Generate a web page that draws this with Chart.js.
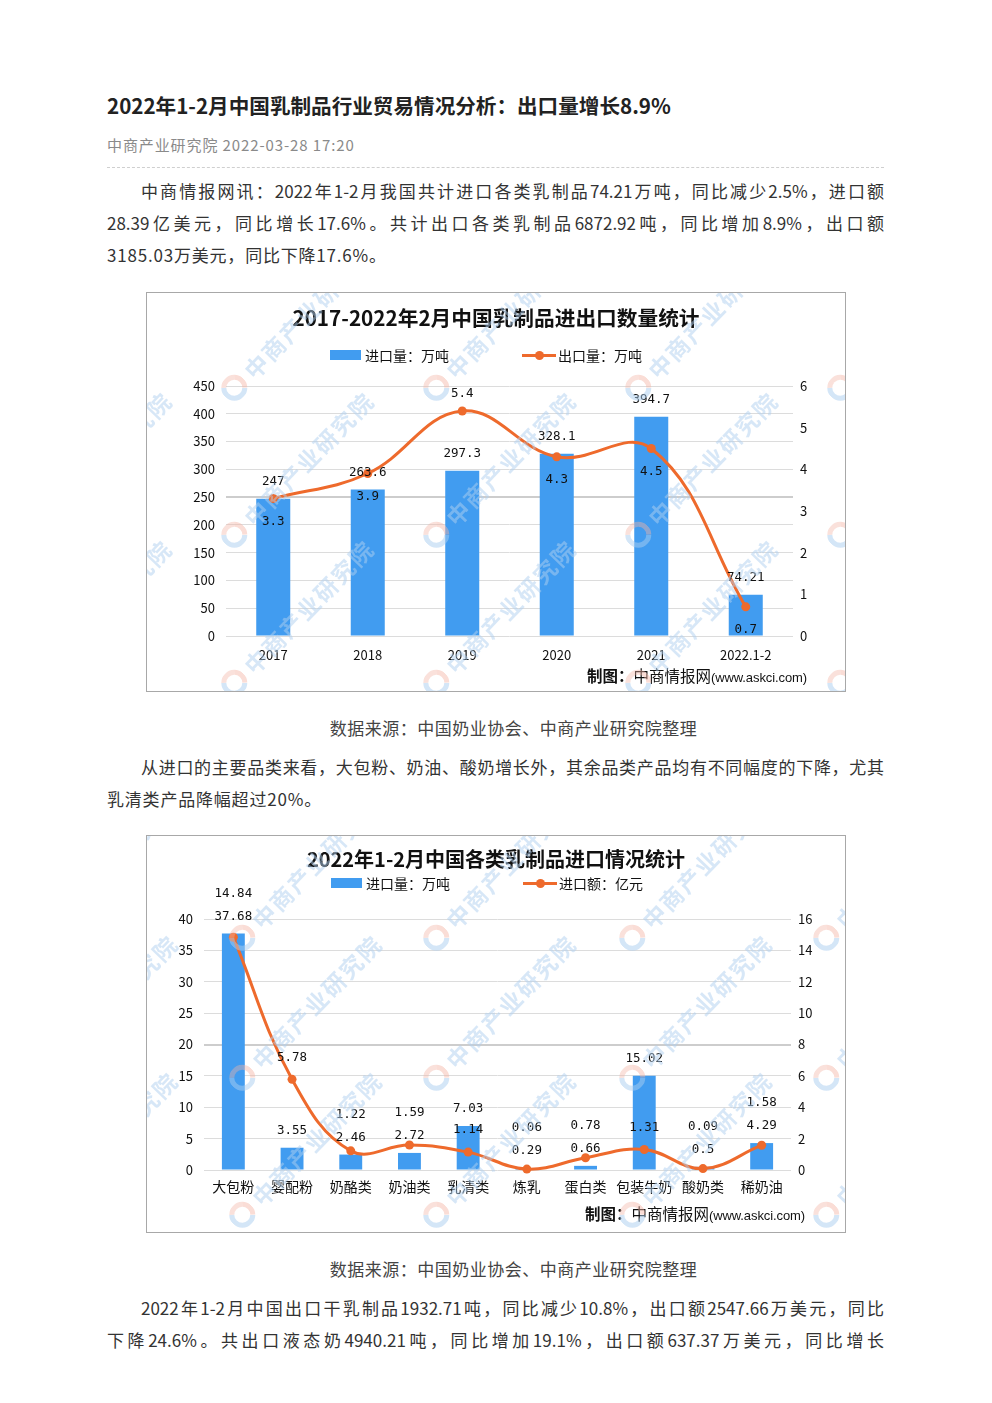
<!DOCTYPE html>
<html lang="zh-CN">
<head>
<meta charset="utf-8">
<title>2022年1-2月中国乳制品行业贸易情况分析</title>
<script src="https://cdn.jsdelivr.net/npm/chart.js@4.4.1/dist/chart.umd.min.js"></script>
<style>
  html, body { margin: 0; padding: 0; background: #fff; }
  body { width: 992px; height: 1403px; position: relative; overflow: hidden;
         font-family: "Noto Sans CJK SC", "Noto Sans", sans-serif; color: #333; }
  .abs { position: absolute; }
  .headline { left: 107px; top: 89px; font-size: 20.6px; line-height: 32px; font-weight: bold; color: #222; white-space: nowrap; }
  .meta { left: 107px; top: 134px; font-size: 15px; line-height: 22px; color: #8a8a8a; white-space: nowrap; letter-spacing: 0.9px; }
  .rule { left: 107px; top: 167px; width: 777px; border-top: 1px dashed #cfcfcf; }
  .para { left: 107px; width: 777px; font-size: 17px; line-height: 32px; letter-spacing: 0.8px; color: #333; }
  .para .jl { text-align: justify; text-align-last: justify; letter-spacing: 0; }
  .para .ind { text-indent: 34px; }
  .caption { left: 0; width: 1027px; text-align: center; font-size: 17px; line-height: 32px; letter-spacing: 0.5px; color: #444; }
  .chartbox { left: 146px; width: 698px; border: 1px solid #a8a8a8; overflow: hidden; background: #fff; }
  .chartbox canvas { position: absolute; left: 0; top: 0; }
  .ctitle { left: 0; width: 698px; text-align: center; font-weight: bold; color: #111; white-space: nowrap; }
  .leg { font-size: 14px; color: #111; white-space: nowrap; line-height: 20px; }
  .legbox { width: 31px; height: 10px; background: #419cf0; }
  .legline { width: 34px; height: 3px; background: #ee6a2c; }
  .legdot { width: 9px; height: 9px; border-radius: 50%; background: #ee6a2c; }
  .foot { white-space: nowrap; color: #111; line-height: 20px; font-size: 15.5px; }
  .foot b { font-weight: bold; }
  .foot span { font-family: "Liberation Sans Narrow", "Liberation Sans", sans-serif; font-size: 13px; letter-spacing: -0.1px; }
  .wm { position: absolute; transform: rotate(-46deg); transform-origin: 12px 12px; white-space: nowrap;
        pointer-events: none; z-index: 5; display: flex; align-items: center; }
  .wm i { display: inline-block; width: 16px; height: 16px; border-radius: 50%;
          border: 5px solid rgba(170, 205, 240, 0.5); border-right-color: rgba(245, 180, 165, 0.45);
          border-top-color: rgba(245, 180, 165, 0.4); margin-right: 6px; }
  .wm em { font-style: normal; font-weight: bold; font-size: 23px; letter-spacing: 2px; color: rgba(175, 208, 240, 0.5); }
</style>
</head>
<body>

<div class="abs headline">2022年1-2月中国乳制品行业贸易情况分析：出口量增长8.9%</div>
<div class="abs meta">中商产业研究院 2022-03-28 17:20</div>
<div class="abs rule"></div>

<div class="abs para" style="top:175px">
  <div class="jl ind">中商情报网讯：2022年1-2月我国共计进口各类乳制品74.21万吨，同比减少2.5%，进口额</div>
  <div class="jl">28.39亿美元，同比增长17.6%。共计出口各类乳制品6872.92吨，同比增加8.9%，出口额</div>
  <div>3185.03万美元，同比下降17.6%。</div>
</div>

<div class="abs chartbox" id="box1" style="top:292px; height:398px;">
  <canvas id="chart1" width="698" height="398"></canvas>
  <div class="abs ctitle" style="top:9px; font-size:20.7px">2017-2022年2月中国乳制品进出口数量统计</div>
  <div class="abs legbox" style="left:183px; top:57px"></div>
  <div class="abs leg" style="left:218px; top:52px">进口量：万吨</div>
  <div class="abs legline" style="left:375px; top:61px"></div>
  <div class="abs legdot" style="left:388px; top:58px"></div>
  <div class="abs leg" style="left:411px; top:52px">出口量：万吨</div>
  <div class="abs foot" style="right:38px; top:372px"><b>制图：</b>中商情报网<span>(www.askci.com)</span></div>
</div>

<div class="abs caption" style="top:712px">数据来源：中国奶业协会、中商产业研究院整理</div>

<div class="abs para" style="top:751px">
  <div class="jl ind">从进口的主要品类来看，大包粉、奶油、酸奶增长外，其余品类产品均有不同幅度的下降，尤其</div>
  <div>乳清类产品降幅超过20%。</div>
</div>

<div class="abs chartbox" id="box2" style="top:835px; height:396px;">
  <canvas id="chart2" width="698" height="396"></canvas>
  <div class="abs ctitle" style="top:8px; font-size:20px">2022年1-2月中国各类乳制品进口情况统计</div>
  <div class="abs legbox" style="left:184px; top:42px"></div>
  <div class="abs leg" style="left:219px; top:37px">进口量：万吨</div>
  <div class="abs legline" style="left:376px; top:46px"></div>
  <div class="abs legdot" style="left:389px; top:43px"></div>
  <div class="abs leg" style="left:412px; top:37px">进口额：亿元</div>
  <div class="abs foot" style="right:40px; top:367px"><b>制图：</b>中商情报网<span>(www.askci.com)</span></div>
</div>

<div class="abs caption" style="top:1253px">数据来源：中国奶业协会、中商产业研究院整理</div>

<div class="abs para" style="top:1292px">
  <div class="jl ind">2022年1-2月中国出口干乳制品1932.71吨，同比减少10.8%，出口额2547.66万美元，同比</div>
  <div class="jl">下降24.6%。共出口液态奶4940.21吨，同比增加19.1%，出口额637.37万美元，同比增长</div>
</div>

<script>
/* ---------- 图1：2017-2022年2月进出口数量 ---------- */
const years        = ['2017', '2018', '2019', '2020', '2021', '2022.1-2'];
const importVolume = [247, 263.6, 297.3, 328.1, 394.7, 74.21];   // 进口量：万吨
const exportVolume = [3.3, 3.9, 5.4, 4.3, 4.5, 0.7];             // 出口量：万吨
const exportLabelSide = ['below', 'below', 'above', 'below', 'below', 'below'];

/* ---------- 图2：2022年1-2月各类乳制品进口 ---------- */
const products      = ['大包粉', '婴配粉', '奶酪类', '奶油类', '乳清类', '炼乳', '蛋白类', '包装牛奶', '酸奶类', '稀奶油'];
const productVolume = [37.68, 3.55, 2.46, 2.72, 7.03, 0.29, 0.66, 15.02, 0.5, 4.29];   // 进口量：万吨
const productValue  = [14.84, 5.78, 1.22, 1.59, 1.14, 0.06, 0.78, 1.31, 0.09, 1.58];   // 进口额：亿元

const BLUE = '#419cf0';
const ORANGE = '#ee6a2c';
const NUM_FONT = '12.5px "DejaVu Sans Mono", "Liberation Mono", monospace';

// 数据标签：柱顶上方；折线标签按规则放上/下
const valueLabels = {
  id: 'valueLabels',
  afterDatasetsDraw(chart, args, opts) {
    const ctx = chart.ctx;
    const barMeta = chart.getDatasetMeta(1);
    const lineMeta = chart.getDatasetMeta(0);
    const barVals = chart.data.datasets[1].data;
    const lineVals = chart.data.datasets[0].data;
    ctx.save();
    ctx.font = NUM_FONT;
    ctx.fillStyle = '#111';
    ctx.textAlign = 'center';
    ctx.textBaseline = 'middle';
    barMeta.data.forEach((bar, i) => {
      const barY = bar.y - 17;
      ctx.fillText(String(barVals[i]), bar.x, barY);
      const p = lineMeta.data[i];
      let ly;
      if (opts.sides) {
        ly = opts.sides[i] === 'above' ? p.y - 17 : p.y + 23;
      } else {
        ly = p.y - 22;
        if (Math.abs(ly - barY) < 14) ly = barY - 23;
      }
      ctx.fillText(String(lineVals[i]), p.x, ly);
    });
    ctx.restore();
  }
};

function axisFont(size) {
  return { family: '"Noto Sans CJK SC", sans-serif', size: size };
}

function buildChart(id, cfg) {
  return new Chart(document.getElementById(id), {
    type: 'bar',
    data: {
      labels: cfg.labels,
      datasets: [
        {
          type: 'line', label: cfg.lineLabel, data: cfg.lineData, yAxisID: 'y1', order: 0,
          borderColor: ORANGE, backgroundColor: ORANGE, borderWidth: 3,
          pointRadius: 4.5, pointBackgroundColor: ORANGE, pointBorderWidth: 0,
          tension: 0.4, cubicInterpolationMode: 'default', clip: false
        },
        {
          type: 'bar', label: cfg.barLabel, data: cfg.barData, yAxisID: 'y', order: 1,
          backgroundColor: BLUE, barPercentage: cfg.barPct, categoryPercentage: 1
        }
      ]
    },
    options: {
      responsive: false,
      animation: false,
      events: [],
      layout: { padding: { top: cfg.padTop, left: 0, right: 0, bottom: 0 } },
      plugins: {
        legend: { display: false },
        tooltip: { enabled: false },
        valueLabels: { sides: cfg.sides }
      },
      scales: {
        x: {
          grid: { display: false },
          border: { display: false },
          ticks: { color: '#111', font: axisFont(cfg.xFont), padding: cfg.xPad, maxRotation: 0, autoSkip: false },
          afterFit(s) { s.height = cfg.xHeight; }
        },
        y: {
          position: 'left', min: 0, max: cfg.yMax,
          ticks: { stepSize: cfg.yStep, color: '#111', font: axisFont(13), padding: cfg.yPad },
          grid: {
            drawTicks: false,
            color: c => (c.tick && c.tick.value === cfg.darkLine) ? '#cdcdcd' : '#dcdcdc',
            lineWidth: c => (c.tick && c.tick.value === cfg.darkLine) ? 2 : 1
          },
          border: { display: false },
          afterFit(s) { s.width = cfg.leftW; }
        },
        y1: {
          position: 'right', min: 0, max: cfg.y1Max,
          ticks: { stepSize: cfg.y1Step, color: '#111', font: axisFont(13), padding: 7 },
          grid: { display: false, drawTicks: false },
          border: { display: false },
          afterFit(s) { s.width = cfg.rightW; }
        }
      }
    },
    plugins: [valueLabels]
  });
}

buildChart('chart1', {
  labels: years, barData: importVolume, lineData: exportVolume,
  barLabel: '进口量：万吨', lineLabel: '出口量：万吨', sides: exportLabelSide,
  yMax: 450, yStep: 50, y1Max: 6, y1Step: 1, darkLine: 250,
  barPct: 0.36, padTop: 93, leftW: 79, rightW: 52, xHeight: 55, xPad: 3, xFont: 13, yPad: 11
});

buildChart('chart2', {
  labels: products, barData: productVolume, lineData: productValue,
  barLabel: '进口量：万吨', lineLabel: '进口额：亿元', sides: null,
  yMax: 40, yStep: 5, y1Max: 16, y1Step: 2, darkLine: 20,
  barPct: 0.39, padTop: 83, leftW: 57, rightW: 54, xHeight: 62, xPad: 0, xFont: 14, yPad: 11
});

// 水印（装饰）
function addWatermarks(boxId, xs, ys) {
  const box = document.getElementById(boxId);
  ys.forEach(y => xs.forEach(x => {
    const w = document.createElement('div');
    w.className = 'wm';
    w.style.left = (x - 12) + 'px';
    w.style.top = (y - 12) + 'px';
    w.innerHTML = '<i></i><em>中商产业研究院</em>';
    box.appendChild(w);
  }));
}
addWatermarks('box1', [-119, 83, 285, 487, 689], [92, 239, 387]);
addWatermarks('box2', [-113, 91, 285, 481, 675], [99, 239, 376]);
</script>
</body>
</html>
